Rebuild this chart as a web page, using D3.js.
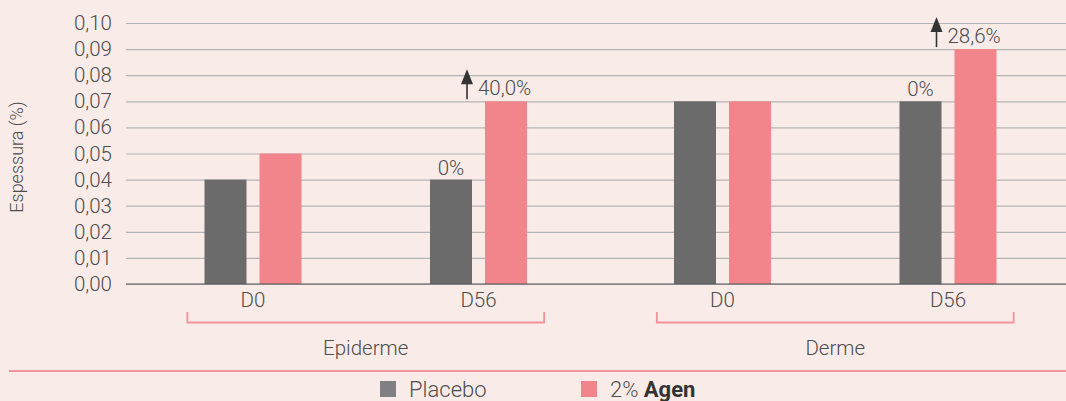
<!DOCTYPE html>
<html>
<head>
<meta charset="utf-8">
<script src="https://cdn.jsdelivr.net/npm/d3@7"></script>
<style>
  body { margin: 0; background: #f9ebe8; }
  svg { display: block; font-family: Roboto, sans-serif; font-weight: 300; }
</style>
</head>
<body>
<div class="chart"></div>
<script>
let width = 1066;
let height = 401;

let groups = ['Epiderme', 'Derme'];
let days = ['D0', 'D56'];
let series = ['Placebo', '2% Agen'];
let colors = ['#6b6b6b', '#f2858b'];
let legendColors = ['#808084', '#f2858b'];
// values[group][day] = [placebo, agen]
let epidermeValues = [[0.04, 0.05], [0.04, 0.07]];
let dermeValues = [[0.07, 0.07], [0.07, 0.09]];
let placeboLabels = ['0%', '0%'];
let agenLabels = ['40,0%', '28,6%'];
let yTicks = [0, 0.01, 0.02, 0.03, 0.04, 0.05, 0.06, 0.07, 0.08, 0.09, 0.10];

let allValues = [epidermeValues, dermeValues];

let svg = d3.select('.chart')
  .append('svg')
  .attr('width', width)
  .attr('height', height);

let textColor = '#4d4d4d';

let yScale = d3.scaleLinear()
  .domain([0, 0.10])
  .range([284, 23]);

let xGroup = d3.scaleBand()
  .domain(groups)
  .range([131, 1070]);

let xDay = d3.scaleBand()
  .domain(days)
  .range([0, xGroup.bandwidth()])
  .paddingOuter(0.041);

let xSeries = d3.scaleBand()
  .domain(series)
  .range([-48.5, 48.5])
  .paddingInner(13 / 55);

// grid + y axis
let yAxis = d3.axisLeft(yScale)
  .tickValues(yTicks)
  .tickFormat(d => d3.format('.2f')(d).replace('.', ','))
  .tickSize(-(width - 126))
  .tickPadding(14);

let yg = svg.append('g')
  .attr('transform', 'translate(126,0)')
  .call(yAxis);
yg.select('.domain').remove();
yg.selectAll('.tick line').attr('stroke', '#b4b4b4').attr('stroke-width', 1.2);
yg.selectAll('.tick text')
  .attr('fill', textColor)
  .style('font-size', '20.5px')
  .style('font-family', 'Roboto, sans-serif')
  .style('font-weight', 300);

svg.append('text')
  .attr('transform', 'translate(23,157) rotate(-90)')
  .attr('text-anchor', 'middle')
  .attr('fill', textColor)
  .style('font-size', '18px')
  .text('Espessura (%)');

// bars
groups.forEach((g, gi) => {
  days.forEach((day, di) => {
    let cx = xGroup(g) + xDay(day) + xDay.bandwidth() / 2;
    let vals = allValues[gi][di];
    svg.selectAll(null)
      .data(vals)
      .enter()
      .append('rect')
      .attr('x', (d, i) => cx + xSeries(series[i]))
      .attr('y', d => yScale(d))
      .attr('width', xSeries.bandwidth())
      .attr('height', d => yScale(0) - yScale(d))
      .attr('fill', (d, i) => colors[i]);

    if (day === 'D56') {
      let pX = cx + xSeries(series[0]) + xSeries.bandwidth() / 2;
      svg.append('text')
        .attr('x', pX)
        .attr('y', yScale(vals[0]) - 5)
        .attr('text-anchor', 'middle')
        .attr('fill', textColor)
        .style('font-size', '20.5px')
        .text(placeboLabels[gi]);

      let aLeft = cx + xSeries(series[1]);
      let aTop = yScale(vals[1]);
      let ax = aLeft - 18;
      svg.append('line')
        .attr('x1', ax).attr('x2', ax)
        .attr('y1', aTop - 2).attr('y2', aTop - 22)
        .attr('stroke', '#333').attr('stroke-width', 1.6);
      svg.append('path')
        .attr('d', `M${ax - 6},${aTop - 17} L${ax},${aTop - 32} L${ax + 6},${aTop - 17} Z`)
        .attr('fill', '#333');
      svg.append('text')
        .attr('x', aLeft - 7)
        .attr('y', aTop - 6)
        .attr('fill', textColor)
        .style('font-size', '20.5px')
        .text(agenLabels[gi]);
    }
  });
});

// baseline
svg.append('line')
  .attr('x1', 126).attr('x2', width)
  .attr('y1', yScale(0)).attr('y2', yScale(0))
  .attr('stroke', '#555').attr('stroke-width', 1.2);

// x labels
groups.forEach(g => {
  days.forEach(day => {
    svg.append('text')
      .attr('x', xGroup(g) + xDay(day) + xDay.bandwidth() / 2)
      .attr('y', 307)
      .attr('text-anchor', 'middle')
      .attr('fill', textColor)
      .style('font-size', '20.5px')
      .text(day);
  });
  let gc = xGroup(g) + xGroup.bandwidth() / 2;
  let half = xGroup.bandwidth() * 0.38;
  svg.append('path')
    .attr('d', `M${gc - half},312 V322.5 H${gc + half} V312`)
    .attr('fill', 'none')
    .attr('stroke', '#f2939a')
    .attr('stroke-width', 1.8);
  svg.append('text')
    .attr('x', gc)
    .attr('y', 355)
    .attr('text-anchor', 'middle')
    .attr('fill', textColor)
    .style('font-size', '20.5px')
    .text(g);
});

// separator
svg.append('line')
  .attr('x1', 9).attr('x2', width)
  .attr('y1', 371).attr('y2', 371)
  .attr('stroke', '#f2939a').attr('stroke-width', 2);

// legend
let legendX = [380, 581];
let legend = svg.selectAll('.legend')
  .data(series)
  .enter()
  .append('g')
  .attr('class', 'legend')
  .attr('transform', (d, i) => 'translate(' + legendX[i] + ',381)');
legend.append('rect')
  .attr('width', 16)
  .attr('height', 16)
  .attr('fill', (d, i) => legendColors[i]);
let lt = legend.append('text')
  .attr('x', 29)
  .attr('y', 16)
  .attr('fill', textColor)
  .style('font-size', '22px');
lt.filter((d, i) => i === 0).text(d => d);
let lt2 = lt.filter((d, i) => i === 1);
lt2.append('tspan').text('2% ');
lt2.append('tspan').style('font-weight', 700).attr('fill', '#333').text('Agen');
</script>
</body>
</html>
